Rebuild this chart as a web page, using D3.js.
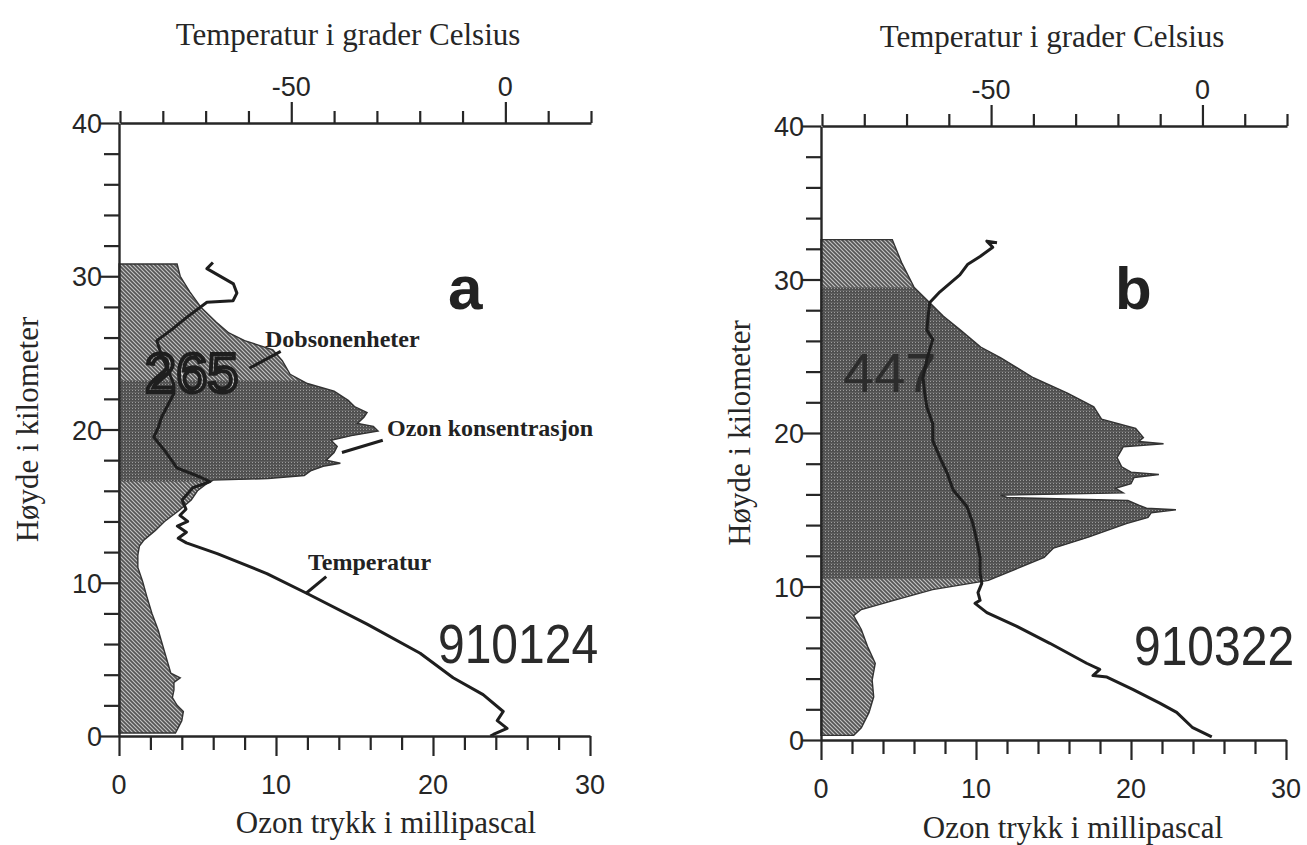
<!DOCTYPE html>
<html><head><meta charset="utf-8">
<script src="https://cdn.jsdelivr.net/npm/d3@7/dist/d3.min.js"></script>
<style>body{margin:0;background:#fff} svg{display:block}</style>
</head><body><svg id="c" width="1307" height="845"></svg>
<script>
// ---------- DATA ----------
const altTickValues = [0,2,4,6,8,10,12,14,16,18,20,22,24,26,28,30,32,34,36,38,40];
const altLabels = [0,10,20,30,40];
const ozoneTickValues = [0,2,4,6,8,10,12,14,16,18,20,22,24,26,28,30];
const ozoneLabels = [0,10,20,30];
const tempTickValues = [-90,-80,-70,-60,-50,-40,-30,-20,-10,0,10,20];
const tempLabels = [-50,0];

// Panel a (910124): ozone partial pressure (mPa) vs altitude (km)
const ozoneAltA = [0.2,0.5,1.0,1.6,2.0,2.5,3.0,3.5,3.8,4.1,4.8,5.5,6.9,8.0,9.0,10.1,11.0,11.8,12.4,12.8,13.4,14.0,14.7,15.4,16.0,16.4,16.7,16.8,17.0,17.3,17.6,17.8,18.0,18.5,18.9,19.3,19.6,19.9,20.2,20.4,20.8,21.1,21.5,21.9,22.5,23.0,23.6,24.5,25.2,25.8,26.3,27.0,28.0,29.0,30.0,30.8];
const ozoneValA = [3.6,3.75,4.0,4.1,3.7,3.4,3.5,3.5,3.9,3.3,3.1,2.9,2.5,2.1,1.8,1.5,1.2,1.2,1.3,1.6,2.3,2.9,3.8,4.6,5.0,5.5,6.0,9.5,11.8,12.2,13.0,14.1,13.2,13.7,13.9,13.5,14.8,16.5,16.2,15.2,15.6,15.8,15.0,14.6,13.7,12.0,10.9,10.4,9.8,8.0,7.0,6.2,5.2,4.5,3.9,3.7];
// Panel a: temperature (deg C) vs altitude (km)
const tempAltA = [0.0,0.1,0.5,1.0,1.6,2.7,3.8,5.4,7.3,9.3,10.6,11.9,12.6,12.9,13.3,13.7,14.0,14.4,14.8,15.4,16.2,16.6,16.9,17.5,18.6,19.5,20.1,20.8,21.5,22.3,23.0,24.0,25.0,25.8,26.5,27.3,28.3,28.4,28.9,29.5,30.5,30.9];
const tempValA = [-3.5,-2.8,0.4,-1.9,-0.5,-5.2,-12.2,-19.9,-32.3,-46.3,-55.7,-67.3,-74.5,-76.4,-74.5,-76.6,-74.2,-76.0,-74.6,-75.5,-73.0,-69.0,-71.3,-76.7,-79.5,-82.1,-81.1,-80.3,-79.0,-77.5,-77.5,-79.0,-80.5,-81.4,-78.0,-74.5,-69.7,-63.6,-62.7,-63.5,-69.7,-68.3];

// Panel b (910322)
const ozoneAltB = [0.3,0.8,1.8,2.8,3.9,5.0,6.1,7.2,8.1,8.5,9.1,9.8,10.4,11.1,11.9,12.5,13.2,14.1,14.5,14.8,15.0,15.1,15.3,15.6,15.8,15.95,16.1,16.4,16.7,17.1,17.3,17.45,17.8,18.4,19.1,19.3,19.45,19.7,20.3,20.9,21.7,22.6,23.6,24.9,25.6,26.7,27.6,28.4,29.5,31.1,32.6];
const ozoneValB = [2.1,2.6,3.1,3.4,3.3,3.5,3.0,2.6,2.1,2.6,4.7,7.2,10.8,12.5,14.4,15.0,17.2,19.7,21.1,21.3,22.9,21.0,20.5,19.8,12.0,11.6,19.5,19.0,20.0,20.2,21.8,20.0,19.4,19.1,19.5,22.1,20.5,20.8,20.3,18.1,17.6,15.9,13.7,11.6,10.3,9.0,7.9,7.1,6.0,5.2,4.6];
const tempAltB = [0.2,0.8,1.8,2.4,3.3,4.1,4.2,4.6,5.0,6.3,7.4,8.3,8.9,9.1,9.6,10.2,10.9,11.9,13.0,14.1,15.2,16.3,17.4,18.4,19.5,20.6,21.7,22.6,23.6,24.8,26.1,26.7,27.6,28.5,29.2,30.3,31.0,31.5,32.1,32.5,32.4];
const tempValB = [2.2,-2.3,-6.1,-10.1,-16.5,-22.6,-25.9,-24.3,-27.4,-36.1,-43.9,-51.0,-53.8,-52.6,-53.1,-52.2,-52.6,-52.6,-53.4,-54.3,-55.7,-59.0,-60.4,-62.1,-63.8,-63.8,-65.2,-65.7,-66.1,-65.2,-63.8,-65.2,-64.9,-64.5,-62.1,-57.4,-55.5,-52.6,-49.6,-51.0,-48.6];

const panelNames = ["a","b"];
const sondeDates = ["910124","910322"];
const dobsonTotals = ["265","447"];

const topTitle = "Temperatur i grader Celsius";
const bottomTitle = "Ozon trykk i millipascal";
const leftTitle = "Høyde i kilometer";

// ---------- LAYOUT ----------
const panels = [
  {frame:{l:119,r:590,t:123,b:736}, oa:ozoneAltA, ov:ozoneValA, ta:tempAltA, tv:tempValA,
   dense:[16.6,23.2], name:panelNames[0], date:sondeDates[0], dob:dobsonTotals[0],
   topTitleX:348, topTitleY:45, topLabY:96, botLabY:794, botTitleX:386, botTitleY:833, yTitleX:38,
   nameX:448, nameY:309, nameSize:62, dateX:438, dateY:663, dobX:145, dobY:392, dobOutline:true},
  {frame:{l:821,r:1286,t:126,b:740}, oa:ozoneAltB, ov:ozoneValB, ta:tempAltB, tv:tempValB,
   dense:[10.5,29.5], name:panelNames[1], date:sondeDates[1], dob:dobsonTotals[1],
   topTitleX:1052, topTitleY:47, topLabY:99, botLabY:798, botTitleX:1073, botTitleY:838, yTitleX:750,
   nameX:1115, nameY:309, nameSize:60, dateX:1134, dateY:665, dobX:843, dobY:392, dobOutline:false}
];

const svg = d3.select("#c");
const defs = svg.append("defs");
const ink = "#262626";

// hatch pattern
const ph = defs.append("pattern").attr("id","hatch").attr("patternUnits","userSpaceOnUse").attr("width",4).attr("height",4);
ph.append("rect").attr("width",4).attr("height",4).attr("fill","#555");
ph.append("path").attr("d","M-1,-1 L5,5 M-1,3 L1,5 M3,-1 L5,1").attr("stroke","#c4c4c4").attr("stroke-width",1.1);
// dense dotted pattern
const pd = defs.append("pattern").attr("id","dense").attr("patternUnits","userSpaceOnUse").attr("width",3).attr("height",3);
pd.append("rect").attr("width",3).attr("height",3).attr("fill","#4f4f4f");
pd.append("rect").attr("x",0).attr("y",0).attr("width",1).attr("height",1).attr("fill","#9c9c9c");
pd.append("rect").attr("x",0).attr("y",2).attr("width",3).attr("height",0.6).attr("fill","#6a6a6a");
// light hatch for outlined numbers
const pl = defs.append("pattern").attr("id","hatchL").attr("patternUnits","userSpaceOnUse").attr("width",4).attr("height",4);
pl.append("rect").attr("width",4).attr("height",4).attr("fill","#8a8a8a");
pl.append("path").attr("d","M-1,-1 L5,5 M-1,3 L1,5 M3,-1 L5,1").attr("stroke","#e6e6e6").attr("stroke-width",1.3);

panels.forEach((p, i) => {
  const f = p.frame;
  const y = d3.scaleLinear().domain([0,40]).range([f.b, f.t]);
  const xO = d3.scaleLinear().domain([0,30]).range([f.l, f.r]);
  const xT = d3.scaleLinear().domain([-90,20]).range([f.l + 1, f.r + 1]);
  const g = svg.append("g");

  const oz = p.oa.map((h, k) => ({h, v: p.ov[k]}));
  const area = d3.area().y(d => y(d.h)).x0(xO(0)).x1(d => xO(d.v));

  g.append("path").datum(oz).attr("d", area).attr("fill","url(#hatch)");
  const cid = "clip" + i;
  defs.append("clipPath").attr("id", cid).append("rect")
    .attr("x", f.l).attr("width", f.r - f.l)
    .attr("y", y(p.dense[1])).attr("height", y(p.dense[0]) - y(p.dense[1]));
  g.append("path").datum(oz).attr("d", area).attr("fill","url(#dense)").attr("clip-path", `url(#${cid})`);
  g.append("path").datum(oz).attr("d", area).attr("fill","none").attr("stroke","#333").attr("stroke-width",1.4);

  // Dobson total
  const dt = g.append("text").attr("x", p.dobX).attr("y", p.dobY).text(p.dob)
    .attr("font-family","Liberation Sans, Arial, sans-serif").attr("font-size",56);
  if (p.dobOutline) dt.attr("fill","url(#hatchL)").attr("stroke","#1e1e1e").attr("stroke-width",4).attr("paint-order","fill");
  else dt.attr("fill","#2c2c2c");

  // temperature
  const tp = p.ta.map((h, k) => ({h, t: p.tv[k]}));
  g.append("path").datum(tp)
    .attr("d", d3.line().x(d => xT(d.t)).y(d => y(d.h)))
    .attr("fill","none").attr("stroke","#1e1e1e").attr("stroke-width",3).attr("stroke-linejoin","round");

  // axes
  const axStyle = sel => { sel.select(".domain").attr("stroke", ink).attr("stroke-width", 2.4);
    sel.selectAll(".tick line").attr("stroke", ink).attr("stroke-width", 2.2);
    sel.selectAll(".tick text").remove(); };

  const ay = g.append("g").attr("transform",`translate(${f.l},0)`)
    .call(d3.axisLeft(y).tickValues(altTickValues).tickSize(15).tickSizeOuter(0)).call(axStyle);
  ay.selectAll(".tick line").filter(d => d % 10 === 0).attr("x2", -20);

  const ab = g.append("g").attr("transform",`translate(0,${f.b})`)
    .call(d3.axisBottom(xO).tickValues(ozoneTickValues).tickSize(14).tickSizeOuter(0)).call(axStyle);
  ab.selectAll(".tick line").filter(d => d % 10 === 0).attr("y2", 20);

  const at = g.append("g").attr("transform",`translate(0,${f.t})`)
    .call(d3.axisTop(xT).tickValues(tempTickValues).tickSize(12).tickSizeOuter(0)).call(axStyle);
  at.selectAll(".tick line").filter(d => d === -50 || d === 0).attr("y2", -21);

  // tick labels
  const numFont = "Liberation Sans, Arial, sans-serif";
  g.selectAll(".yl").data(altLabels).join("text")
    .attr("x", f.l - 17).attr("y", d => y(d) + 10).attr("text-anchor","end")
    .attr("font-family", numFont).attr("font-size", 27).attr("fill", ink).text(d => d);
  g.selectAll(".bl").data(ozoneLabels).join("text")
    .attr("x", d => xO(d)).attr("y", p.botLabY).attr("text-anchor","middle")
    .attr("font-family", numFont).attr("font-size", 27).attr("fill", ink).text(d => d);
  g.selectAll(".tl").data(tempLabels).join("text")
    .attr("x", d => xT(d)).attr("y", p.topLabY).attr("text-anchor","middle")
    .attr("font-family", numFont).attr("font-size", 27).attr("fill", ink).text(d => d);

  // titles
  const serif = "Liberation Serif, Times New Roman, serif";
  g.append("text").attr("x", p.topTitleX).attr("y", p.topTitleY).attr("text-anchor","middle")
    .attr("font-family", serif).attr("font-size", 31).attr("fill", ink).text(topTitle);
  g.append("text").attr("x", p.botTitleX).attr("y", p.botTitleY).attr("text-anchor","middle")
    .attr("font-family", serif).attr("font-size", 31).attr("fill", ink).text(bottomTitle);
  g.append("text").attr("transform", `translate(${p.yTitleX},${(f.t + f.b) / 2}) rotate(-90)`)
    .attr("text-anchor","middle").attr("font-family", serif).attr("font-size", 31).attr("fill", ink).text(leftTitle);

  // panel letter and date
  g.append("text").attr("x", p.nameX).attr("y", p.nameY).attr("font-family", numFont)
    .attr("font-weight","bold").attr("font-size", p.nameSize).attr("fill","#222").text(p.name);
  g.append("text").attr("transform", `translate(${p.dateX},${p.dateY}) scale(1,1.17)`)
    .attr("font-family", numFont).attr("font-size", 48)
    .attr("fill","#2a2a2a").text(p.date);

  // annotations for panel a
  if (i === 0) {
    const notes = [
      {text:"Dobsonenheter", tx:265, ty:347, from:[8.3,24.0], to:[10.3,25.1]},
      {text:"Ozon konsentrasjon", tx:387, ty:436, from:[14.2,18.5], to:[16.8,19.3]},
      {text:"Temperatur", tx:308, ty:570, from:[11.9,9.3], to:[13.2,10.4]}
    ];
    notes.forEach(n => {
      g.append("text").attr("x", n.tx).attr("y", n.ty).attr("font-family", serif)
        .attr("font-weight","bold").attr("font-size", 24).attr("fill","#222").text(n.text);
      g.append("line").attr("x1", xO(n.from[0])).attr("y1", y(n.from[1]))
        .attr("x2", xO(n.to[0])).attr("y2", y(n.to[1]))
        .attr("stroke","#1e1e1e").attr("stroke-width",3);
    });
  }
});
</script></body></html>
